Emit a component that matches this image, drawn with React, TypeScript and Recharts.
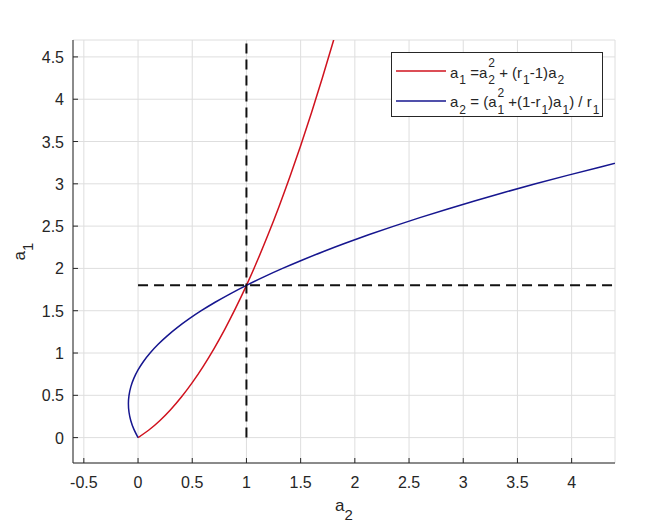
import React from 'react';
import { LineChart, Line, XAxis, YAxis, CartesianGrid, ReferenceLine, Legend } from 'recharts';

// ---- data ----
const xTicks = [-0.5, 0, 0.5, 1, 1.5, 2, 2.5, 3, 3.5, 4];
const yTicks = [0, 0.5, 1, 1.5, 2, 2.5, 3, 3.5, 4, 4.5];
const xDomain: [number, number] = [-0.6, 4.4];
const yDomain: [number, number] = [-0.3, 4.7];

// red curve: a1 = a2^2 + (r1-1) a2
const redA2 = [0, 0.1, 0.2, 0.3, 0.4, 0.5, 0.6, 0.7, 0.8, 0.9, 1.0, 1.1, 1.2, 1.3, 1.4, 1.5, 1.6, 1.7, 1.8, 1.9];
const redA1 = [0, 0.09, 0.2, 0.33, 0.48, 0.65, 0.84, 1.05, 1.28, 1.53, 1.8, 2.09, 2.4, 2.73, 3.08, 3.45, 3.84, 4.25, 4.68, 5.13];

// blue curve: a2 = (a1^2 + (1-r1) a1) / r1
const blueA1 = [0, 0.1, 0.2, 0.3, 0.4, 0.5, 0.6, 0.7, 0.8, 0.9, 1.0, 1.1, 1.2, 1.3, 1.4, 1.5, 1.6, 1.7, 1.8, 1.9, 2.0, 2.1, 2.2, 2.3, 2.4, 2.5, 2.6, 2.7, 2.8, 2.9, 3.0, 3.1, 3.2, 3.3, 3.4];
const blueA2 = [0, -0.0389, -0.0667, -0.0833, -0.0889, -0.0833, -0.0667, -0.0389, 0, 0.05, 0.1111, 0.1833, 0.2667, 0.3611, 0.4667, 0.5833, 0.7111, 0.85, 1.0, 1.1611, 1.3333, 1.5167, 1.7111, 1.9167, 2.1333, 2.3611, 2.6, 2.85, 3.1111, 3.3833, 3.6667, 3.9611, 4.2667, 4.5833, 4.9111];

// crossing point and dashed guide extents
const crossA2 = 1;
const crossA1 = 1.8;
const vGuideA1 = [0, 4.7];
const hGuideA2 = [0, 4.4];

const redData = redA2.map((a2, i) => ({ a2, a1: redA1[i] }));
const blueData = blueA1.map((a1, i) => ({ a2: blueA2[i], a1 }));

const FONT = '"Liberation Sans", Arial, Helvetica, sans-serif';
const INK = '#262626';
const RED = '#d0121e';
const BLUE = '#16168f';

const BottomTick = (props: any) => {
  const { x, y, payload } = props;
  return (
    <g>
      <line x1={x} y1={y} x2={x} y2={y - 5} stroke={INK} strokeWidth={1} />
      <text x={x} y={y + 25} textAnchor="middle" fontSize={16} fill={INK} fontFamily={FONT}>
        {String(payload.value)}
      </text>
    </g>
  );
};
const TopTick = (props: any) => {
  const { x, y } = props;
  return <line x1={x} y1={y} x2={x} y2={y + 5} stroke={INK} strokeWidth={1} />;
};
const LeftTick = (props: any) => {
  const { x, y, payload } = props;
  return (
    <g>
      <line x1={x} y1={y} x2={x + 5} y2={y} stroke={INK} strokeWidth={1} />
      <text x={x - 9} y={y + 6} textAnchor="end" fontSize={16} fill={INK} fontFamily={FONT}>
        {String(payload.value)}
      </text>
    </g>
  );
};
const RightTick = (props: any) => {
  const { x, y } = props;
  return <line x1={x} y1={y} x2={x - 5} y2={y} stroke={INK} strokeWidth={1} />;
};

const XLabel = (p: any) => {
  const vb = p.viewBox || {};
  const cx = vb.x + vb.width / 2;
  return (
    <text x={cx} y={vb.y + 48} textAnchor="middle" fill={INK} fontFamily={FONT}>
      <tspan fontSize={17}>a</tspan>
      <tspan fontSize={15} dy={9}>2</tspan>
    </text>
  );
};
const YLabel = (p: any) => {
  const vb = p.viewBox || {};
  const cx = 25;
  const cy = vb.y + vb.height / 2;
  return (
    <text x={cx} y={cy} transform={`rotate(-90 ${cx} ${cy})`} textAnchor="middle" fill={INK} fontFamily={FONT}>
      <tspan fontSize={17}>a</tspan>
      <tspan fontSize={15} dy={8}>1</tspan>
    </text>
  );
};

const S = ({ base, sub, sup }: { base: string; sub?: string; sup?: string }) => (
  <span style={{ display: 'inline-flex', alignItems: 'center' }}>
    <span>{base}</span>
    <span style={{ display: 'inline-flex', flexDirection: 'column', fontSize: 12, lineHeight: '13px', marginLeft: 1 }}>
      <span style={{ visibility: sup ? 'visible' : 'hidden', position: 'relative', top: -2 }}>{sup || '0'}</span>
      <span style={{ position: 'relative', top: 2 }}>{sub || ''}</span>
    </span>
  </span>
);

const legendLabels = [
  <span style={{ display: 'inline-flex', alignItems: 'center', whiteSpace: 'pre' }}>
    <S base="a" sub="1" />
    <span> =</span>
    <S base="a" sub="2" sup="2" />
    <span> + (</span>
    <S base="r" sub="1" />
    <span>-1)</span>
    <S base="a" sub="2" />
  </span>,
  <span style={{ display: 'inline-flex', alignItems: 'center', whiteSpace: 'pre' }}>
    <S base="a" sub="2" />
    <span> = (</span>
    <S base="a" sub="1" sup="2" />
    <span> +(1-</span>
    <S base="r" sub="1" />
    <span>)</span>
    <S base="a" sub="1" />
    <span>) / </span>
    <S base="r" sub="1" />
  </span>,
];

const renderLegend = (props: any) => {
  const payload = props.payload || [];
  return (
    <div
      style={{
        width: 212,
        height: 65,
        boxSizing: 'border-box',
        border: `1px solid ${INK}`,
        background: '#fff',
        position: 'relative',
        fontFamily: FONT,
        fontSize: 15,
        color: INK,
      }}
    >
      {payload.map((entry: any, i: number) => (
        <div
          key={i}
          style={{ position: 'absolute', left: 3, top: 18 + i * 29.5 - 13, height: 26, display: 'flex', alignItems: 'center' }}
        >
          <svg width={52} height={26} style={{ display: 'block' }}>
            <line x1={1} y1={13} x2={51} y2={13} stroke={entry.color} strokeWidth={1.5} />
          </svg>
          <div style={{ marginLeft: 3, marginTop: 2 }}>{legendLabels[i]}</div>
        </div>
      ))}
    </div>
  );
};

export default function App() {
  return (
    <div style={{ position: 'absolute', left: 0, top: 0, width: 647, height: 525, background: '#fff' }}>
      <LineChart width={647} height={525} margin={{ top: 40, right: 32, bottom: 0, left: 0 }}>
        <CartesianGrid stroke="#dedede" strokeWidth={1} />
        <XAxis
          dataKey="a2"
          type="number"
          domain={xDomain}
          allowDataOverflow
          ticks={xTicks}
          interval={0}
          height={62}
          tickSize={0}
          tickMargin={0}
          tickLine={false}
          axisLine={{ stroke: INK, strokeWidth: 1 }}
          tick={<BottomTick />}
          label={{ content: XLabel }}
        />
        <XAxis
          xAxisId="top"
          orientation="top"
          dataKey="a2"
          type="number"
          domain={xDomain}
          allowDataOverflow
          ticks={xTicks}
          interval={0}
          height={0}
          tickSize={0}
          tickMargin={0}
          tickLine={false}
          axisLine={{ stroke: INK, strokeWidth: 1 }}
          tick={<TopTick />}
        />
        <YAxis
          dataKey="a1"
          type="number"
          domain={yDomain}
          allowDataOverflow
          ticks={yTicks}
          interval={0}
          width={73}
          tickSize={0}
          tickMargin={0}
          tickLine={false}
          axisLine={{ stroke: INK, strokeWidth: 1 }}
          tick={<LeftTick />}
          label={{ content: YLabel }}
        />
        <YAxis
          yAxisId="right"
          orientation="right"
          type="number"
          domain={yDomain}
          allowDataOverflow
          ticks={yTicks}
          interval={0}
          width={0}
          tickSize={0}
          tickMargin={0}
          tickLine={false}
          axisLine={{ stroke: INK, strokeWidth: 1 }}
          tick={<RightTick />}
        />
        <Line
          name="eq1"
          data={redData}
          dataKey="a1"
          type="natural"
          stroke={RED}
          strokeWidth={1.5}
          dot={false}
          activeDot={false}
          isAnimationActive={false}
        />
        <Line
          name="eq2"
          data={blueData}
          dataKey="a1"
          type="natural"
          stroke={BLUE}
          strokeWidth={1.5}
          dot={false}
          activeDot={false}
          isAnimationActive={false}
        />
        <ReferenceLine
          segment={[{ x: crossA2, y: vGuideA1[0] }, { x: crossA2, y: vGuideA1[1] }]}
          stroke="#111"
          strokeWidth={2}
          strokeDasharray="10 6"
          ifOverflow="hidden"
        />
        <ReferenceLine
          segment={[{ x: hGuideA2[0], y: crossA1 }, { x: hGuideA2[1], y: crossA1 }]}
          stroke="#111"
          strokeWidth={2}
          strokeDasharray="10 6"
          ifOverflow="hidden"
        />
        <Legend
          layout="vertical"
          align="center"
          verticalAlign="middle"
          wrapperStyle={{ left: 391, top: 52, width: 212, height: 65 }}
          content={renderLegend}
        />
      </LineChart>
    </div>
  );
}
